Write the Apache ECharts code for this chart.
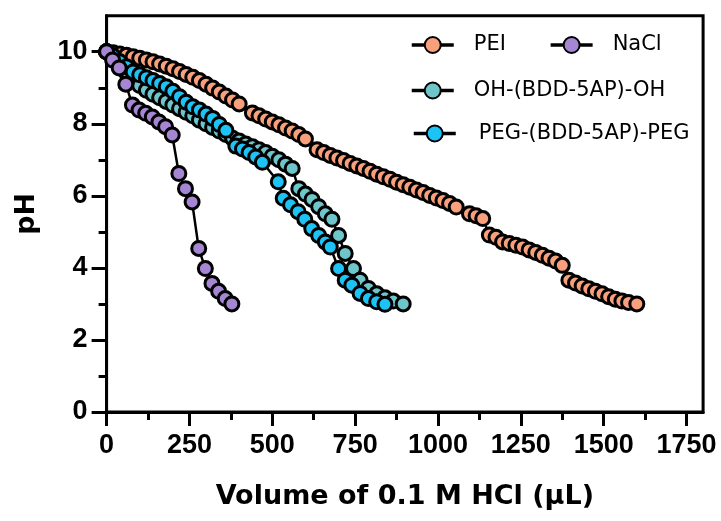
<!DOCTYPE html>
<html><head><meta charset="utf-8">
<script src="https://cdn.jsdelivr.net/npm/echarts@6/dist/echarts.min.js"></script>
<style>html,body{margin:0;padding:0;background:#fff}#c{width:721px;height:521px}</style>
</head><body><div id="c"></div>
<script>
// ---- data ----
const peiVol = [0,20,40,60,80,100,120,140,160,180,200,220,240,260,280,300,320,340,360,380,400,440,460,480,500,520,540,560,580,600,635,655,675,695,715,735,755,775,795,815,835,855,875,895,915,935,955,975,995,1015,1035,1055,1095,1115,1135,1155,1175,1195,1215,1235,1255,1275,1295,1315,1335,1355,1375,1395,1415,1435,1455,1475,1495,1515,1535,1555,1575,1600];
const peiPH  = [10.0,9.97,9.94,9.9,9.86,9.82,9.77,9.72,9.66,9.6,9.53,9.45,9.37,9.29,9.2,9.1,8.99,8.88,8.77,8.66,8.55,8.3,8.22,8.13,8.05,7.97,7.88,7.8,7.7,7.58,7.28,7.2,7.12,7.05,6.98,6.9,6.83,6.76,6.68,6.6,6.53,6.46,6.38,6.31,6.24,6.16,6.09,6.01,5.94,5.87,5.79,5.69,5.5,5.45,5.37,4.91,4.85,4.72,4.68,4.63,4.58,4.5,4.43,4.35,4.27,4.19,4.07,3.66,3.58,3.5,3.42,3.35,3.28,3.2,3.13,3.08,3.04,3.0];

const naclVol = [0,18,38,58,78,98,118,138,158,178,198,218,238,258,278,298,318,338,358,378];
const naclPH  = [10.0,9.77,9.55,9.1,8.52,8.38,8.29,8.19,8.05,7.92,7.69,6.62,6.2,5.83,4.54,3.98,3.57,3.35,3.15,3.0];

const ohVol = [0,20,40,60,80,100,120,140,160,180,200,220,240,260,280,300,320,340,360,380,400,420,440,460,480,500,520,540,560,580,600,620,640,660,680,700,720,745,765,790,815,840,865,895];
const ohPH  = [10.0,9.82,9.62,9.42,9.22,9.06,8.93,8.82,8.72,8.62,8.52,8.42,8.32,8.22,8.1,8.0,7.9,7.8,7.7,7.6,7.52,7.44,7.36,7.28,7.2,7.1,7.0,6.88,6.76,6.2,6.05,5.9,5.7,5.5,5.35,4.9,4.4,3.98,3.66,3.43,3.28,3.17,3.08,3.0];

const pegVol = [0,20,40,60,80,100,120,140,160,180,200,220,240,260,280,300,320,340,360,390,410,430,450,470,518,533,555,578,598,619,640,660,675,700,720,740,765,790,815,840];
const pegPH  = [10.0,9.88,9.72,9.58,9.44,9.36,9.28,9.2,9.12,9.03,8.9,8.75,8.6,8.47,8.38,8.27,8.15,7.98,7.82,7.38,7.3,7.2,7.08,6.93,6.39,5.93,5.75,5.56,5.35,5.09,4.9,4.72,4.58,3.98,3.66,3.52,3.29,3.15,3.06,2.99];

const seriesNames = ['PEI','NaCl','OH-(BDD-5AP)-OH','PEG-(BDD-5AP)-PEG'];
const xMajorTicks = [0,250,500,750,1000,1250,1500,1750];
const xMinorTicks = [125,375,625,875,1125,1375,1625];
const yMajorTicks = [0,2,4,6,8,10];
const yMinorTicks = [1,3,5,7,9];
const xTitle = 'Volume of 0.1 M HCl (µL)';
const yTitle = 'pH';

// ---- chart ----
const pair = (xs, ys) => xs.map((x, i) => [x, ys[i]]);
const colors = {PEI:'#F8A07B', NaCl:'#A586D3', OH:'#6EC6CB', PEG:'#1DC3F5'};
const gridPos = {left:106.6, right:17.9, top:15.7, bottom:109};
const X_MIN = 0, X_MAX = 1800, Y_MIN = 0, Y_MAX = 11;
const tickFont = {fontFamily:'Liberation Sans, Arial, sans-serif', fontWeight:'bold', fontSize:27, color:'#000'};
const plain = v => String(v);

function mkSeries(name, data, color, z) {
  return {
    name, type:'line', data, xAxisIndex:0, yAxisIndex:0,
    symbol:'circle', symbolSize:14, z,
    lineStyle:{color:'#000', width:2.5},
    itemStyle:{color, borderColor:'#000', borderWidth:3},
    emphasis:{disabled:true}, animation:false
  };
}

const legendText = {fontFamily:'DejaVu Sans, sans-serif', fontSize:21, color:'#000'};
const legendBase = {
  orient:'horizontal', itemWidth:42, itemHeight:20, padding:0, selectedMode:false,
  lineStyle:{width:3.5, color:'#000'}
};

const option = {
  backgroundColor:'#fff',
  animation:false,
  grid:[
    Object.assign({show:true, borderColor:'#000', borderWidth:3, backgroundColor:'transparent', containLabel:false}, gridPos),
    Object.assign({show:false, containLabel:false}, gridPos)
  ],
  xAxis:[
    {type:'value', gridIndex:0, min:X_MIN, max:X_MAX, position:'bottom',
     axisLine:{show:true, onZero:false, lineStyle:{color:'#000', width:3}},
     axisTick:{show:true, length:14, lineStyle:{color:'#000', width:3}, customValues:xMajorTicks},
     axisLabel:{show:true, margin:20, customValues:xMajorTicks, formatter:plain, ...tickFont},
     splitLine:{show:false},
     name:xTitle, nameLocation:'middle', nameGap:71,
     nameTextStyle:{fontFamily:'DejaVu Sans, sans-serif', fontWeight:'bold', fontSize:27, color:'#000'}},
    {type:'value', gridIndex:1, min:X_MIN, max:X_MAX, position:'bottom',
     axisLine:{show:false},
     axisTick:{show:true, length:8, lineStyle:{color:'#000', width:3}, customValues:xMinorTicks},
     axisLabel:{show:false}, splitLine:{show:false}}
  ],
  yAxis:[
    {type:'value', gridIndex:0, min:Y_MIN, max:Y_MAX, position:'left',
     axisLine:{show:true, onZero:false, lineStyle:{color:'#000', width:3}},
     axisTick:{show:true, length:15, lineStyle:{color:'#000', width:3}, customValues:yMajorTicks},
     axisLabel:{show:true, margin:19, customValues:yMajorTicks, formatter:plain, ...tickFont},
     splitLine:{show:false},
     name:yTitle, nameLocation:'middle', nameGap:66, nameRotate:90,
     nameTextStyle:{fontFamily:'DejaVu Sans, sans-serif', fontWeight:'bold', fontSize:27, color:'#000'}},
    {type:'value', gridIndex:1, min:Y_MIN, max:Y_MAX, position:'left',
     axisLine:{show:false},
     axisTick:{show:true, length:8, lineStyle:{color:'#000', width:3}, customValues:yMinorTicks},
     axisLabel:{show:false}, splitLine:{show:false}}
  ],
  legend:[
    Object.assign({}, legendBase, {data:[seriesNames[0], seriesNames[1]], left:410, top:34.5, itemGap:43,
      textStyle:Object.assign({}, legendText, {padding:[0,0,0,15]})}),
    Object.assign({}, legendBase, {data:[seriesNames[2]], left:410, top:80,
      textStyle:Object.assign({}, legendText, {padding:[0,0,0,15]})}),
    Object.assign({}, legendBase, {data:[seriesNames[3]], left:412, top:123,
      textStyle:Object.assign({}, legendText, {padding:[0,0,0,18]})})
  ],
  series:[
    mkSeries(seriesNames[0], pair(peiVol, peiPH), colors.PEI, 2),
    mkSeries(seriesNames[2], pair(ohVol, ohPH), colors.OH, 3),
    mkSeries(seriesNames[3], pair(pegVol, pegPH), colors.PEG, 4),
    mkSeries(seriesNames[1], pair(naclVol, naclPH), colors.NaCl, 5)
  ]
};
const chart = echarts.init(document.getElementById('c'), null, {renderer:'canvas'});
chart.setOption(option);
</script>
</body></html>
